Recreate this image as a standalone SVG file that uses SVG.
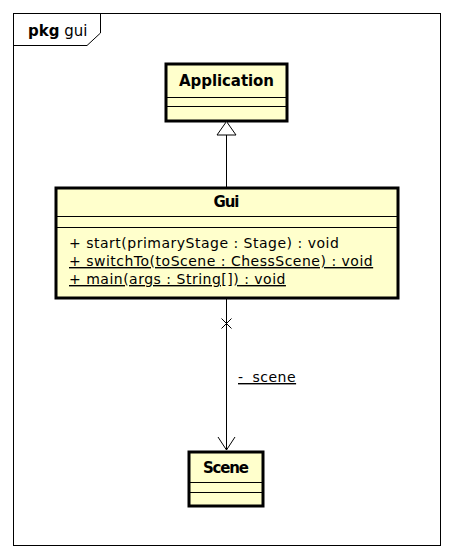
<svg xmlns="http://www.w3.org/2000/svg" width="453" height="560" viewBox="0 0 453 560">
<style>
text{font-family:"DejaVu Sans","Liberation Sans",sans-serif;fill:#000}
.cls{fill:#FFFFCC;stroke:#000;stroke-width:3}
.sep{stroke:#000;stroke-width:1}
.title{font-weight:bold;font-size:15px;text-anchor:middle}
.op{font-size:14px;letter-spacing:0.5px}
.line{stroke:#000;stroke-width:1;fill:none}
</style>
<rect width="453" height="560" fill="#fff"/>
<g id="frame">
<rect x="13.5" y="13.5" width="427" height="532" fill="none" stroke="#000" stroke-width="1"/>
<path d="M13.5 45.5 H87 L100.5 33 V13.5" fill="none" stroke="#000" stroke-width="1"/>
<text x="28" y="36" font-size="15"><tspan font-weight="bold">pkg</tspan> gui</text>
</g>
<g id="Application">
<rect class="cls" x="166" y="64" width="121" height="57"/>
<line class="sep" x1="166" y1="97.5" x2="287" y2="97.5"/>
<line class="sep" x1="166" y1="106.5" x2="287" y2="106.5"/>
<text class="title" x="226.5" y="86" textLength="95">Application</text>
</g>
<g id="Gui">
<rect class="cls" x="56" y="188" width="342" height="110"/>
<line class="sep" x1="56" y1="216.5" x2="398" y2="216.5"/>
<line class="sep" x1="56" y1="227.5" x2="398" y2="227.5"/>
<text class="title" x="226.5" y="207" textLength="26">Gui</text>
<text class="op" x="69" y="248">+ start(primaryStage : Stage) : void</text>
<text class="op" x="69" y="266" text-decoration="underline">+ switchTo(toScene : ChessScene) : void</text>
<text class="op" x="69" y="284" text-decoration="underline">+ main(args : String[]) : void</text>
</g>
<g id="Scene">
<rect class="cls" x="189" y="452" width="74" height="54"/>
<line class="sep" x1="189" y1="482.5" x2="263" y2="482.5"/>
<line class="sep" x1="189" y1="492.5" x2="263" y2="492.5"/>
<text class="title" x="226" y="473" textLength="46">Scene</text>
</g>
<g id="connectors">
<line class="line" x1="226.5" y1="135" x2="226.5" y2="187"/>
<path d="M226.5 121.5 L217 135 L236 135 Z" fill="#fff" stroke="#000" stroke-width="1"/>
<line class="line" x1="226.5" y1="299" x2="226.5" y2="450"/>
<path class="line" d="M221.5 318.5 L231.5 328.5 M231.5 318.5 L221.5 328.5"/>
<path class="line" d="M218 437 L226.5 450 L235 437"/>
<text x="238" y="382" font-size="14" letter-spacing="0.5" word-spacing="4" text-decoration="underline">- scene</text>
</g>
</svg>
